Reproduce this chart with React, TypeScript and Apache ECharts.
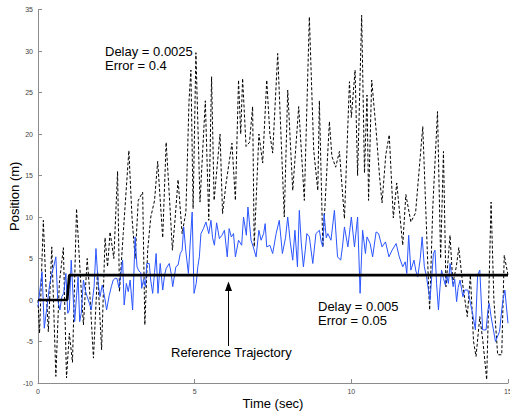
import React, { useEffect, useRef } from "react";
import * as echarts from "echarts";

const xTicks = [0, 5, 10, 15];
const yTicks = [-10, -5, 0, 5, 10, 15, 20, 25, 30, 35];

const dashedTime = [
  0, 0.05, 0.17, 0.25, 0.33, 0.44, 0.57, 0.68, 0.81, 0.91, 1.0, 1.1, 1.23, 1.35, 1.45, 1.57, 1.65, 1.77, 1.9, 2.03,
  2.14, 2.22, 2.3, 2.42, 2.54, 2.6, 2.72, 2.9, 3.0, 3.1, 3.2, 3.34, 3.41, 3.5, 3.6, 3.72, 3.82, 3.98, 4.09, 4.2,
  4.29, 4.38, 4.47, 4.6, 4.72, 4.82, 4.88, 4.95, 5.04, 5.17, 5.34, 5.45, 5.54, 5.62, 5.81, 5.89, 6.0, 6.19, 6.3, 6.4,
  6.47, 6.53, 6.64, 6.75, 6.85, 6.9, 7.05, 7.17, 7.3, 7.4, 7.49, 7.65, 7.86, 7.97, 8.13, 8.32, 8.5, 8.66, 8.8, 8.93,
  8.98, 9.09, 9.3, 9.38, 9.5, 9.62, 9.78, 9.94, 10.0, 10.12, 10.2, 10.33, 10.42, 10.5, 10.55, 10.65, 10.79, 10.9, 10.98, 11.1,
  11.21, 11.34, 11.45, 11.64, 11.74, 11.9, 12.05, 12.28, 12.47, 12.5, 12.6, 12.75, 12.85, 12.94, 13.02, 13.15, 13.24, 13.35, 13.43, 13.55,
  13.7, 13.8, 13.9, 13.98, 14.1, 14.2, 14.32, 14.46, 14.55, 14.67, 14.8, 14.88, 15.0,
];
const dashedPos = [
  0, -4, 9.6, 2, -3.8, 6.4, -9.2, 2, 6.3, -9.4, -4, -7.5, 11, 3, -3, 5, 1, -7, 3.5, -6,
  7.5, 4, 8.2, 5, 15.5, 1, 8, 18, 10, 5, 12, 13, -3, 6, 10, 12, 16.7, 7.5, 19, 12,
  6, 10, 14.5, 8, 10.6, 24, 27.7, 11, 29.8, 11.8, 24, 9.6, 26.9, 12, 20, 10.4, 14, 18.9, 12, 26.5,
  20, 26.7, 18.5, 19, 23.3, 6.4, 20, 16.5, 26.5, 20, 17.7, 29.7, 10, 25.3, 13.2, 23.3, 12, 34.1, 18, 13.2,
  24, 6.4, 21.5, 17.3, 16, 17.9, 9.8, 26.3, 22, 27.7, 15, 34.3, 15.3, 24.7, 12, 26.5, 20.5, 14.9, 11.7, 17.5,
  19.9, 9.9, 14.1, 6.6, 12.7, 9.4, 10.5, 20.9, 1.2, -1.2, 11.2, 22.7, 5, 17.9, 1.6, 7.8, 2, 4, 6.3, 2,
  -2, 3, -5, -6.8, -2, -5, -9.6, 11.8, 0, -6.6, -6.6, 5.4, 3,
];

const blueTime = [
  0, 0.07, 0.13, 0.2, 0.28, 0.37, 0.44, 0.5, 0.57, 0.63, 0.7, 0.76, 0.82, 0.89, 0.95, 1.0, 1.06, 1.12, 1.17, 1.23,
  1.28, 1.33, 1.38, 1.45, 1.52, 1.57, 1.64, 1.7, 1.79, 1.85, 1.92, 1.98, 2.05, 2.12, 2.19, 2.27, 2.34, 2.4, 2.46, 2.52,
  2.58, 2.63, 2.7, 2.75, 2.82, 2.88, 2.94, 3.02, 3.1, 3.16, 3.22, 3.28, 3.31, 3.37, 3.43, 3.47, 3.55, 3.6, 3.66, 3.72,
  3.77, 3.83, 3.9, 3.98, 4.04, 4.09, 4.19, 4.25, 4.3, 4.4, 4.47, 4.54, 4.6, 4.65, 4.72, 4.8, 4.86, 4.92, 4.98, 5.05,
  5.1, 5.15, 5.2, 5.28, 5.36, 5.45, 5.52, 5.57, 5.63, 5.7, 5.79, 5.87, 5.95, 6.04, 6.1, 6.17, 6.24, 6.3, 6.4, 6.5,
  6.56, 6.65, 6.7, 6.8, 6.87, 6.96, 7.05, 7.12, 7.2, 7.25, 7.3, 7.4, 7.49, 7.6, 7.7, 7.8, 7.9, 7.97, 8.05, 8.13,
  8.2, 8.28, 8.34, 8.4, 8.47, 8.53, 8.58, 8.66, 8.77, 8.87, 8.98, 9.04, 9.09, 9.13, 9.2, 9.25, 9.35, 9.46, 9.56, 9.66,
  9.72, 9.78, 9.89, 10.0, 10.1, 10.2, 10.28, 10.36, 10.45, 10.5, 10.6, 10.68, 10.79, 10.87, 10.98, 11.09, 11.2, 11.3, 11.43, 11.53,
  11.64, 11.72, 11.77, 11.83, 11.9, 12.0, 12.06, 12.12, 12.2, 12.26, 12.33, 12.4, 12.45, 12.51, 12.57, 12.62, 12.67, 12.72, 12.78, 12.83,
  12.88, 12.94, 13.0, 13.04, 13.1, 13.15, 13.2, 13.25, 13.3, 13.36, 13.41, 13.47, 13.56, 13.62, 13.72, 13.8, 13.87, 13.96, 14.03, 14.1,
  14.19, 14.3, 14.36, 14.4, 14.46, 14.53, 14.6, 14.73, 14.8, 14.84, 14.9, 15.0,
];
const bluePos = [
  -0.8, 1.5, 3.4, -3.4, -1, 1.8, 3.2, 4, 5.2, 0, -1.2, 0.4, 0.8, 3.2, -1.6, -1.2, 4.8, 0.5, -2.6, 0.5,
  2.8, -2.6, -1.6, 2.4, 1, 0.4, -0.4, -1.2, 1.6, 6.2, 2, 0.4, 1.8, 0.5, -1.2, 0.5, 1.6, 2.4, 2.6, 2.6,
  1.5, 2.8, 4.8, -0.6, 2, 1, 2.4, -1.2, 7.6, 4, 3.5, 3.3, 1.4, 2.5, 1.6, 4.4, 4.4, 2.3, 0.8, 3.3,
  5.6, 0.8, 4.4, 1.2, 3, 3.8, 4.4, 3.2, 1.6, 4, 4.2, 5.6, 6, 8.8, 5.8, 3.2, 7, 10.6, 0.8, 2,
  4, 5.2, 8, 8.6, 9.4, 8, 9.6, 7.5, 6.6, 9.3, 7.4, 7.8, 8.4, 5.2, 8.6, 7.6, 8, 5.2, 7.2, 6.6,
  10, 7.8, 11.2, 7.2, 6.4, 5.2, 8.4, 7.2, 8, 9.2, 6.4, 6.6, 5.6, 8, 9.6, 5.6, 7.5, 10, 7, 4.8,
  8.4, 4, 10.8, 7, 4, 6, 8, 7.6, 4.4, 8, 8.4, 7, 6.4, 10.4, 7.5, 8, 7.2, 10.8, 5.2, 4.8,
  6.5, 8.8, 6.4, 10, 6.4, 10, 0.8, 8.4, 5.6, 7.6, 6.8, 5.2, 8.2, 8, 6.4, 7, 5.2, 6, 6.8, 5.2,
  4, 4.6, 3.2, 7.8, 3.6, 4.8, 3.5, 2.8, 5, 7.6, 4, 2.8, 1.5, 0, 3, 5.6, 6, 2, -1.2, 1.5,
  3.6, 2.6, 1.8, 3, 2, 4.4, 3, 1.6, 2.5, -0.2, 1.5, 2.4, 0.4, 1.2, 1.2, -0.4, -1.6, -3.6, 3, 3.6,
  -3.6, -3.6, -1.2, -0.4, -2, -3.5, -5, -3.8, -1.2, 0, 1.2, -2.8,
];

const refTime = [0, 0.93, 1.0, 15];
const refPos = [0, 0, 3, 3];

const zip = (t: number[], v: number[]) => t.map((x, i) => [x, v[i]]);

const FONT = "'Liberation Sans', Arial, Helvetica, sans-serif";

export default function App() {
  const ref = useRef<HTMLDivElement>(null);
  useEffect(() => {
    if (!ref.current) return;
    const chart = echarts.init(ref.current, undefined, { renderer: "svg" });
    chart.setOption({
      animation: false,
      backgroundColor: "#ffffff",
      textStyle: { fontFamily: FONT },
      grid: { left: 38, right: 2, top: 9.5, bottom: 28, containLabel: false, outerBoundsMode: "none" },
      xAxis: {
        type: "value",
        min: xTicks[0],
        max: xTicks[xTicks.length - 1],
        interval: 5,
        name: "Time (sec)",
        nameLocation: "middle",
        nameGap: 14,
        nameMoveOverlap: false,
        nameTextStyle: { fontSize: 13, color: "#000", fontFamily: FONT },
        axisLine: { show: true, onZero: false, lineStyle: { color: "#8c8c8c", width: 1 } },
        axisTick: { show: true, inside: true, length: 4, lineStyle: { color: "#8c8c8c" } },
        axisLabel: { fontSize: 7, color: "#444", margin: 5, fontFamily: FONT },
        splitLine: { show: false },
      },
      yAxis: {
        type: "value",
        min: yTicks[0],
        max: yTicks[yTicks.length - 1],
        interval: 5,
        name: "Position (m)",
        nameLocation: "middle",
        nameGap: 17,
        nameRotate: 90,
        nameMoveOverlap: false,
        nameTextStyle: { fontSize: 13, color: "#000", fontFamily: FONT },
        axisLine: { show: true, onZero: false, lineStyle: { color: "#8c8c8c", width: 1 } },
        axisTick: { show: true, inside: true, length: 4, lineStyle: { color: "#8c8c8c" } },
        axisLabel: { fontSize: 7, color: "#444", margin: 5, fontFamily: FONT },
        splitLine: { show: false },
      },
      series: [
        {
          type: "line",
          name: "Delay 0.0025",
          data: zip(dashedTime, dashedPos),
          showSymbol: false,
          symbol: "none",
          lineStyle: { color: "#000", width: 1, type: [3, 2] },
          z: 2,
        },
        {
          type: "line",
          name: "Delay 0.005",
          data: zip(blueTime, bluePos),
          showSymbol: false,
          symbol: "none",
          lineStyle: { color: "#2a55ff", width: 1 },
          z: 3,
        },
        {
          type: "line",
          name: "Reference",
          data: zip(refTime, refPos),
          showSymbol: false,
          symbol: "none",
          lineStyle: { color: "#000", width: 2.7 },
          z: 4,
        },
      ],
      graphic: [
        {
          type: "text",
          left: 105,
          top: 44,
          style: { text: "Delay = 0.0025\nError = 0.4", fontSize: 13, lineHeight: 14, fill: "#000", fontFamily: FONT },
          z: 10,
        },
        {
          type: "text",
          left: 318,
          top: 299,
          style: { text: "Delay = 0.005\nError = 0.05", fontSize: 13, lineHeight: 14, fill: "#000", fontFamily: FONT },
          z: 10,
        },
        {
          type: "text",
          left: 171,
          top: 346,
          style: { text: "Reference Trajectory", fontSize: 13, fill: "#000", fontFamily: FONT },
          z: 10,
        },
        {
          type: "line",
          shape: { x1: 228.5, y1: 346, x2: 228.5, y2: 288 },
          style: { stroke: "#000", lineWidth: 1 },
          z: 10,
        },
        {
          type: "polygon",
          shape: { points: [[225, 291], [228.5, 281.5], [232, 291]] },
          style: { fill: "#000" },
          z: 10,
        },
      ],
    });
    return () => chart.dispose();
  }, []);
  return (
    <div
      ref={ref}
      style={{ position: "fixed", left: 0, top: 0, width: 510, height: 411, background: "#fff" }}
    />
  );
}
